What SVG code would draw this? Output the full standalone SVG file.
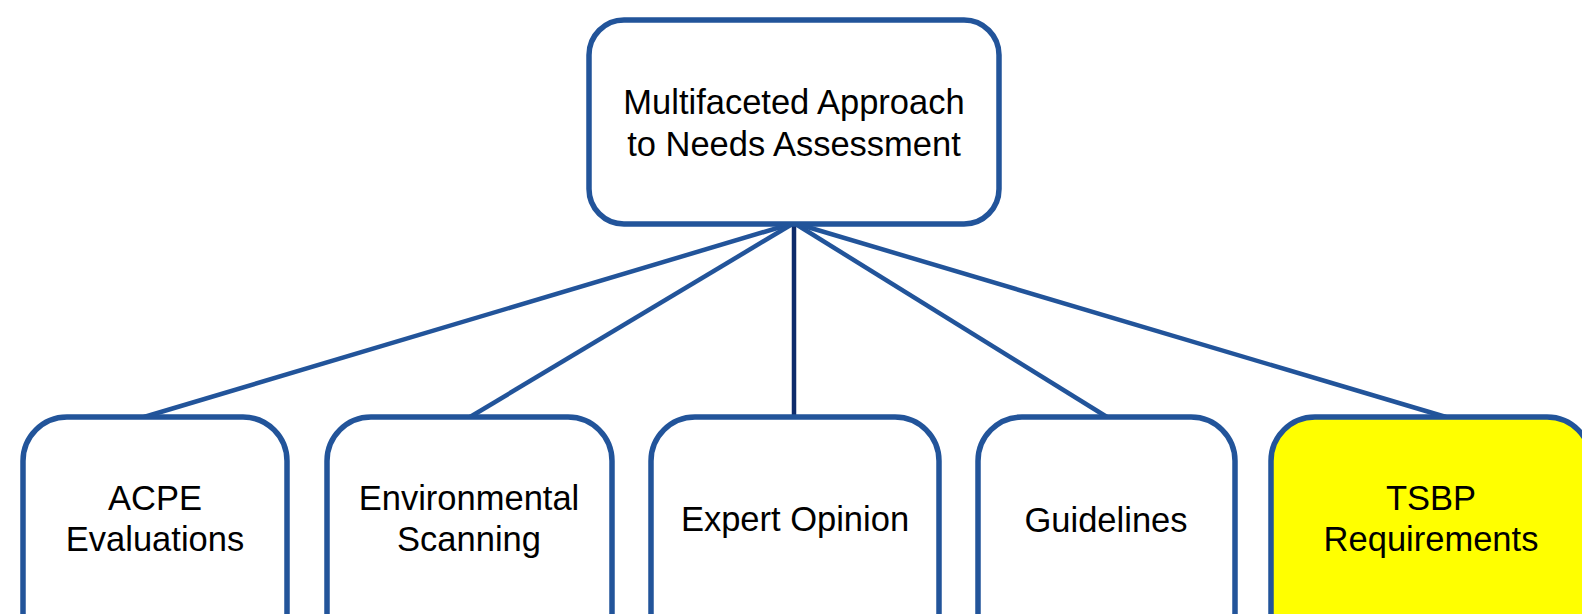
<svg xmlns="http://www.w3.org/2000/svg" width="1582" height="614" viewBox="0 0 1582 614">
<style>
.box{fill:#ffffff;stroke:#22549A;stroke-width:5.5}
.hl{fill:#FFFF00}
.lbl{font-family:"Liberation Sans",Arial,sans-serif;font-size:34.5px;fill:#000000;text-anchor:middle}
.conn{stroke:#22549A;stroke-width:4.5;fill:none}
.conn.dark{stroke:#0D2B6B}
</style>
<rect width="1582" height="614" fill="#ffffff"/>
<g id="connectors">
<line class="conn" x1="794" y1="223" x2="144" y2="417"/>
<line class="conn" x1="794" y1="223" x2="470" y2="417"/>
<line class="conn" x1="794" y1="223" x2="1107" y2="417"/>
<line class="conn" x1="794" y1="223" x2="1446" y2="417"/>
<line class="conn dark" x1="794" y1="223" x2="794" y2="417"/>
</g>
<g id="root">
<rect class="box" x="589" y="20" width="410" height="204" rx="35"/>
<text class="lbl" x="794" y="114">Multifaceted Approach</text>
<text class="lbl" x="794" y="156">to Needs Assessment</text>
</g>
<g id="acpe">
<rect class="box" x="23" y="417" width="264" height="240" rx="44"/>
<text class="lbl" x="155" y="510">ACPE</text>
<text class="lbl" x="155" y="551">Evaluations</text>
</g>
<g id="env">
<rect class="box" x="327" y="417" width="285" height="240" rx="44"/>
<text class="lbl" x="469" y="510">Environmental</text>
<text class="lbl" x="469" y="551">Scanning</text>
</g>
<g id="expert">
<rect class="box" x="651" y="417" width="288" height="240" rx="44"/>
<text class="lbl" x="795" y="531">Expert Opinion</text>
</g>
<g id="guidelines">
<rect class="box" x="978" y="417" width="257" height="240" rx="44"/>
<text class="lbl" x="1106" y="532">Guidelines</text>
</g>
<g id="tsbp">
<rect class="box hl" x="1271" y="417" width="320" height="240" rx="44"/>
<text class="lbl" x="1431" y="510">TSBP</text>
<text class="lbl" x="1431" y="551">Requirements</text>
</g>
</svg>
